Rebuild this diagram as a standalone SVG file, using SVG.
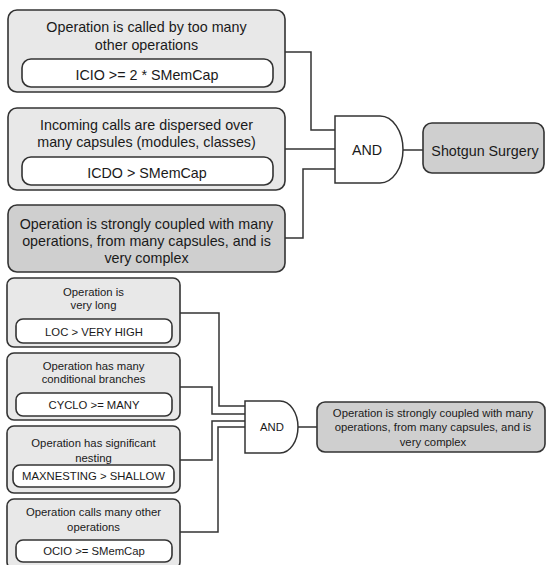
<svg xmlns="http://www.w3.org/2000/svg" width="546" height="565" viewBox="0 0 546 565">
  <style>
    .cond { fill: #e8e8e8; stroke: #333; stroke-width: 1.6; }
    .res { fill: #cfcfcf; stroke: #333; stroke-width: 1.6; }
    .metric { fill: #ffffff; stroke: #333; stroke-width: 1.6; }
    .gate { fill: #ffffff; stroke: #333; stroke-width: 1.5; }
    .wire { fill: none; stroke: #333; stroke-width: 1.5; }
    text { font-family: "Liberation Sans", Arial, sans-serif; fill: #1a1a1a; text-anchor: middle; }
    .big { font-size: 14.3px; }
    .small { font-size: 11.3px; }
  </style>

  <rect width="546" height="565" fill="#ffffff"/>

  <!-- connectors -->
  <g id="connectors">
    <path class="wire" d="M285,52 H311 V130 H335"/>
    <path class="wire" d="M285,149 H335"/>
    <path class="wire" d="M285,238 H303 V169 H335"/>
    <path class="wire" d="M403,150 H423"/>
    <path class="wire" d="M180,313 H219 V406 H245"/>
    <path class="wire" d="M180,387 H212 V414 H245"/>
    <path class="wire" d="M180,460 H212 V421 H245"/>
    <path class="wire" d="M180,532 H218 V427 H245"/>
    <path class="wire" d="M298,427 H317"/>
  </g>

  <!-- upper tree -->
  <g id="icio">
    <rect class="cond" x="8" y="10" width="277" height="82" rx="9"/>
    <text class="big" x="146.5" y="32">Operation is called by too many</text>
    <text class="big" x="146.5" y="50">other operations</text>
    <rect class="metric" x="22" y="59" width="251" height="28" rx="9"/>
    <text class="big" x="147" y="80">ICIO &gt;= 2 * SMemCap</text>
  </g>

  <g id="icdo">
    <rect class="cond" x="8" y="108" width="277" height="82" rx="9"/>
    <text class="big" x="146.5" y="130">Incoming calls are dispersed over</text>
    <text class="big" x="146.5" y="147">many capsules (modules, classes)</text>
    <rect class="metric" x="22" y="157" width="251" height="28" rx="9"/>
    <text class="big" x="147" y="178">ICDO &gt; SMemCap</text>
  </g>

  <g id="intensive-coupling">
    <rect class="res" x="8" y="205" width="277" height="67" rx="9"/>
    <text class="big" x="146.5" y="229">Operation is strongly coupled with many</text>
    <text class="big" x="146.5" y="246">operations, from many capsules, and is</text>
    <text class="big" x="146.5" y="263">very complex</text>
  </g>

  <g id="and-upper">
    <path class="gate" d="M335,116 H380 A23,33.5 0 0 1 380,183 H335 Z"/>
    <text class="big" x="367" y="155">AND</text>
  </g>

  <g id="shotgun-surgery">
    <rect class="res" x="423" y="123" width="121" height="50" rx="9"/>
    <text class="big" x="485" y="156">Shotgun Surgery</text>
  </g>

  <!-- lower tree -->
  <g id="loc">
    <rect class="cond" x="7" y="278" width="173" height="69" rx="7"/>
    <text class="small" x="93.5" y="296">Operation is</text>
    <text class="small" x="93.5" y="309">very long</text>
    <rect class="metric" x="16" y="319" width="156" height="24" rx="7"/>
    <text class="small" x="94" y="336">LOC &gt; VERY HIGH</text>
  </g>

  <g id="cyclo">
    <rect class="cond" x="7" y="353" width="173" height="67" rx="7"/>
    <text class="small" x="93.5" y="370">Operation has many</text>
    <text class="small" x="93.5" y="383">conditional branches</text>
    <rect class="metric" x="16" y="393" width="156" height="23" rx="7"/>
    <text class="small" x="94" y="409">CYCLO &gt;= MANY</text>
  </g>

  <g id="maxnesting">
    <rect class="cond" x="7" y="426" width="173" height="67" rx="7"/>
    <text class="small" x="93.5" y="447">Operation has significant</text>
    <text class="small" x="93.5" y="462">nesting</text>
    <rect class="metric" x="13" y="465" width="161" height="22" rx="7"/>
    <text class="small" x="93.5" y="480">MAXNESTING &gt; SHALLOW</text>
  </g>

  <g id="ocio">
    <rect class="cond" x="7" y="499" width="173" height="70" rx="7"/>
    <text class="small" x="93.5" y="516">Operation calls many other</text>
    <text class="small" x="93.5" y="531">operations</text>
    <rect class="metric" x="16" y="540" width="156" height="22" rx="7"/>
    <text class="small" x="94" y="555">OCIO &gt;= SMemCap</text>
  </g>

  <g id="and-lower">
    <path class="gate" d="M245,401 H280 A18,26 0 0 1 280,453 H245 Z"/>
    <text class="small" x="272" y="431">AND</text>
  </g>

  <g id="intensive-coupling-result">
    <rect class="res" x="317" y="402" width="228" height="50" rx="8"/>
    <text class="small" x="433" y="417">Operation is strongly coupled with many</text>
    <text class="small" x="433" y="431">operations, from many capsules, and is</text>
    <text class="small" x="433" y="446">very complex</text>
  </g>
</svg>
